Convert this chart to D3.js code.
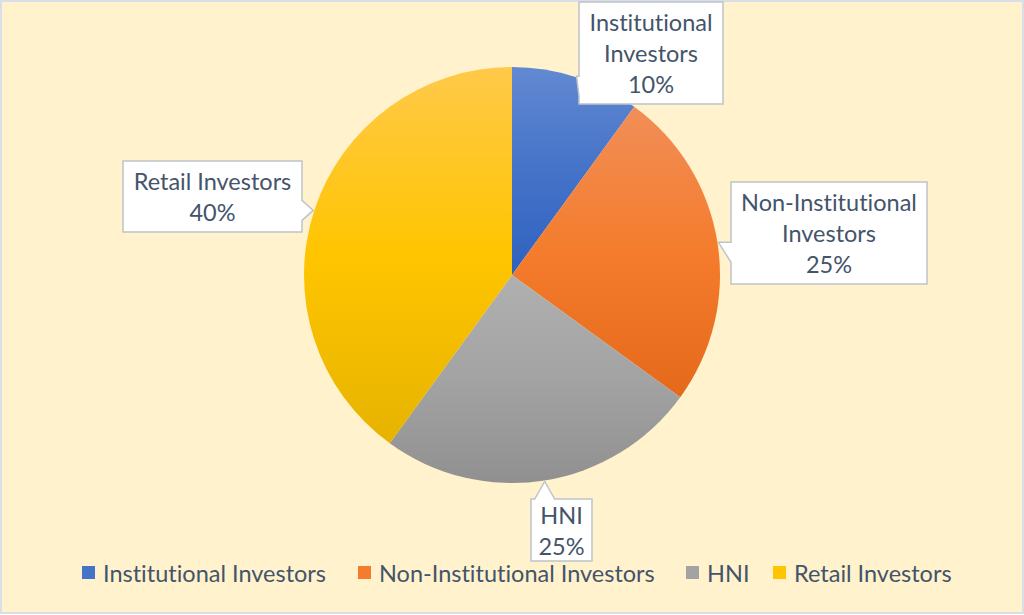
<!DOCTYPE html>
<html>
<head>
<meta charset="utf-8">
<script src="https://cdnjs.cloudflare.com/ajax/libs/d3/7.8.5/d3.min.js"></script>
<style>
  html, body { margin: 0; padding: 0; background: #fff; }
  svg { display: block; }
  text { font-variant-ligatures: none; font-feature-settings: "liga" 0, "clig" 0; }
</style>
</head>
<body>
<div id="chart"></div>
<script>
// Data
const categories = ["Institutional Investors", "Non-Institutional Investors", "HNI", "Retail Investors"];
const shares = [10, 25, 25, 40];
const labelLines = [["Institutional", "Investors"], ["Non-Institutional", "Investors"], ["HNI"], ["Retail Investors"]];
const colorsTop = ["#6289D2", "#F18E58", "#B0B0B0", "#FFC94A"];
const colorsMid = ["#4573C8", "#F47C2C", "#A3A3A3", "#FFC500"];
const colorsBot = ["#2E61BF", "#E5691A", "#909090", "#E6B300"];

const W = 1024, H = 615;
const cx = 512, cy = 275, radius = 208;
const textColor = "#44546A";
const fontFamily = "Lato, 'Open Sans', sans-serif";
const fontSize = 23.5;
const lineH = 31;

// Callout box layout
const boxes = [
    { x: 579, y: 2, w: 144, h: 102, side: "left" },
    { x: 731, y: 182, w: 196, h: 102, side: "left" },
    { x: 531, y: 499, w: 61, h: 62, side: "top" },
    { x: 123, y: 161, w: 179, h: 71, side: "right" }
];

const svg = d3.select("#chart").append("svg")
    .attr("width", W)
    .attr("height", H);

// Background + frame
svg.append("rect")
    .attr("x", 1).attr("y", 1)
    .attr("width", W - 2).attr("height", H - 3)
    .attr("fill", "#FFF2CC")
    .attr("stroke", "#D9DFE8")
    .attr("stroke-width", 2);

// Gradients per slice
const defs = svg.append("defs");
categories.forEach((c, i) => {
    const g = defs.append("linearGradient")
        .attr("id", "grad" + i)
        .attr("x1", 0).attr("y1", 0).attr("x2", 0).attr("y2", 1);
    g.append("stop").attr("offset", "0%").attr("stop-color", colorsTop[i]);
    g.append("stop").attr("offset", "50%").attr("stop-color", colorsMid[i]);
    g.append("stop").attr("offset", "100%").attr("stop-color", colorsBot[i]);
});

const pie = d3.pie().sort(null).value(d => d);
const arcs = pie(shares);
const arc = d3.arc().innerRadius(0).outerRadius(radius);

const pieG = svg.append("g").attr("transform", `translate(${cx},${cy})`);

pieG.selectAll("path.slice")
    .data(arcs)
    .join("path")
    .attr("class", "slice")
    .attr("d", arc)
    .attr("fill", (d, i) => `url(#grad${i})`);

// Data labels (callouts)
const total = d3.sum(shares);
arcs.forEach((d, i) => {
    const b = boxes[i];
    const mid = (d.startAngle + d.endAngle) / 2;
    const tx = cx + Math.sin(mid) * (radius + 1);
    const ty = cy - Math.cos(mid) * (radius + 1);
    const half = 10;
    const x0 = b.x, y0 = b.y, x1 = b.x + b.w, y1 = b.y + b.h;
    let p;
    if (b.side === "left") {
        const c = Math.max(y0 + half, Math.min(y1 - half, ty + half));
        p = `M${x0},${y0} H${x1} V${y1} H${x0} V${c + half} L${tx},${ty} L${x0},${c - half} Z`;
    } else if (b.side === "right") {
        const c = Math.max(y0 + half, Math.min(y1 - half, ty));
        p = `M${x0},${y0} H${x1} V${c - half} L${tx},${ty} L${x1},${c + half} V${y1} H${x0} Z`;
    } else {
        const c = Math.max(x0 + half, Math.min(x1 - half, tx));
        p = `M${x0},${y0} H${c - half} L${tx},${ty} L${c + half},${y0} H${x1} V${y1} H${x0} Z`;
    }
    svg.append("path")
        .attr("d", p)
        .attr("fill", "#FFFFFF")
        .attr("stroke", "#BFC4CA")
        .attr("stroke-width", 1.5);

    const lines = labelLines[i].concat([Math.round(shares[i] / total * 100) + "%"]);
    const startY = b.y + b.h / 2 - (lines.length - 1) * lineH / 2;
    lines.forEach((t, k) => {
        svg.append("text")
            .attr("x", b.x + b.w / 2)
            .attr("y", startY + k * lineH)
            .attr("text-anchor", "middle")
            .attr("dominant-baseline", "central")
            .attr("font-family", fontFamily)
            .attr("font-size", fontSize + "px")
            .attr("fill", textColor)
            .text(t);
    });
});

// Legend
const legendX = [82, 358, 686, 773];
const legend = svg.append("g");
categories.forEach((c, i) => {
    legend.append("rect")
        .attr("x", legendX[i])
        .attr("y", 566)
        .attr("width", 13)
        .attr("height", 13)
        .attr("fill", colorsMid[i]);
    legend.append("text")
        .attr("x", legendX[i] + 21)
        .attr("y", 573)
        .attr("dominant-baseline", "central")
        .attr("font-family", fontFamily)
        .attr("font-size", fontSize + "px")
        .attr("fill", textColor)
        .text(c);
});
</script>
</body>
</html>
